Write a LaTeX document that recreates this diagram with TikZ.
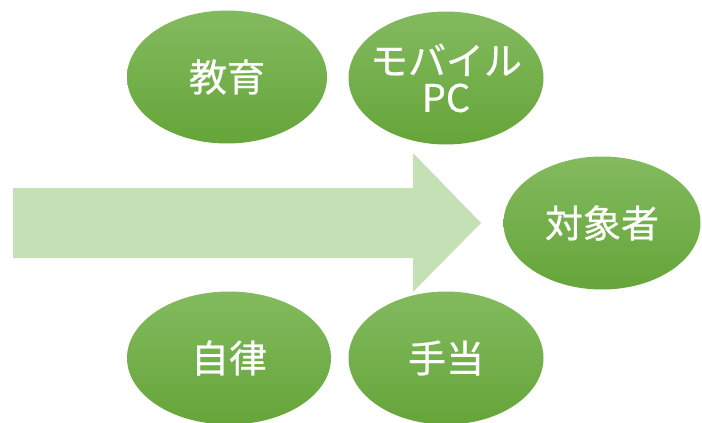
\documentclass[tikz,border=0pt]{standalone}
\usepackage{fontspec}
\newfontfamily\jp[FakeBold=0.6]{Noto Sans CJK JP}
\usetikzlibrary{shapes.geometric}
\definecolor{gtop}{RGB}{131,186,95}
\definecolor{gbot}{RGB}{101,165,57}
\definecolor{arrowfill}{RGB}{197,224,180}
\tikzset{
  oval/.style={ellipse, inner sep=0pt, top color=gtop, bottom color=gbot, draw=none,
    text=white, font=\jp\fontsize{38}{41}\selectfont, align=center},
}
\begin{document}
\begin{tikzpicture}[x=1pt,y=-1pt]
\useasboundingbox (0,0) rectangle (702,423);
\fill[arrowfill] (13,188) -- (413,188) -- (413,153) -- (481,223) -- (413,292) -- (413,258) -- (13,258) -- cycle;
\node[oval, minimum width=200pt, minimum height=133pt] (kyoiku) at (227,77) {教育};
\node[oval, inner xsep=-14pt, minimum width=195pt, minimum height=133pt] (mobile) at (446,78) {モバイル\\[-4pt]PC};
\node[oval, minimum width=197pt, minimum height=133pt] (taisho) at (602,223) {対象者};
\node[oval, minimum width=204pt, minimum height=133pt] (jiritsu) at (229,358) {自律};
\node[oval, minimum width=195pt, minimum height=133pt] (teate) at (446,358) {手当};
\end{tikzpicture}
\end{document}
